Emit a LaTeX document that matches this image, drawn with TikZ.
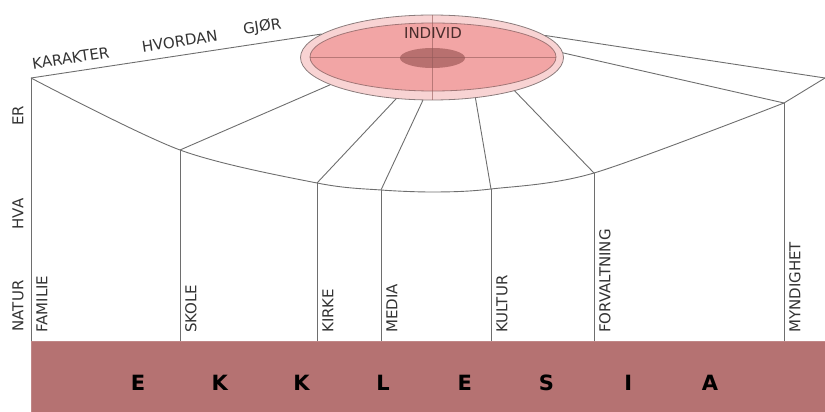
\documentclass[tikz,border=0pt]{standalone}
\usepackage{fontspec}
\setmainfont{DejaVu Sans}
\usetikzlibrary{shapes.geometric}

\definecolor{rim}{HTML}{F8D3D3}
\definecolor{disk}{HTML}{F2A5A5}
\definecolor{core}{HTML}{B8706F}
\definecolor{bar}{HTML}{B57272}
\definecolor{wire}{HTML}{6E6E6E}
\definecolor{ink}{HTML}{333333}

\tikzset{
  wire/.style={draw=wire, line width=0.9pt},
  lbl/.style={font=\fontsize{15}{17}\selectfont, text=ink, inner sep=0pt},
  vlbl/.style={lbl, rotate=90, anchor=west},
  letter/.style={font=\fontsize{21}{23}\selectfont\bfseries, text=black},
}

\begin{document}
\begin{tikzpicture}[x=1pt,y=-1pt]
    \useasboundingbox (0,0) rectangle (825,412);
    \node[fill=bar, draw=bar!85!white, anchor=north west, inner sep=0pt,
      minimum width=794pt, minimum height=71pt] (base) at (31,341) {};
    \foreach \c [count=\i] in {E,K,K,L,E,S,I,A}
      \node[letter] (b\i) at ({138+81.7*(\i-1)},383) {\c};

    \coordinate (fam) at (31,78);
    \coordinate (sko) at (180,150);
    \coordinate (kir) at (317,183);
    \coordinate (med) at (381,190);
    \coordinate (kul) at (491,189);
    \coordinate (forv) at (594,173);
    \coordinate (myn) at (784,103);
    \coordinate (tip) at (825,78);

    \draw[wire] plot[smooth, tension=0.5] coordinates
      {(fam) (sko) (kir) (med) (436,192) (kul) (forv) (myn)};
    \foreach \j/\t in {fam/FAMILIE, sko/SKOLE, kir/KIRKE, med/MEDIA,
        kul/KULTUR, forv/FORVALTNING, myn/MYNDIGHET} {
      \draw[wire] (\j) -- (\j |- base.north);
      \path (\j |- base.north) ++(11,-8) node[vlbl] (\j-t) {\t};
    }

    \node[lbl, rotate=90] (er) at (18,116) {ER};
    \node[lbl, rotate=90] (hva) at (18,214) {HVA};
    \node[lbl, rotate=90] (natur) at (18,306) {NATUR};

    \node[ellipse, draw=gray!80!core, fill=rim, line width=0.8pt, inner sep=0pt,
      minimum width=263pt, minimum height=85pt] (ind) at (432,57.5) {};
    \node[ellipse, draw=core!60!gray, fill=disk, line width=0.8pt, inner sep=0pt,
      minimum width=246pt, minimum height=68pt] (plate) at (433,57) {};
    \node[ellipse, fill=core, inner sep=0pt,
      minimum width=65pt, minimum height=20pt] (kjerne) at (432.5,58) {};
    \draw[core!80!black, line width=0.6pt, opacity=0.6] (plate.west) -- (plate.east);
    \draw[core!80!black, line width=0.6pt, opacity=0.6] (ind.north) -- (ind.south);
    \node[lbl, text=core!40!black] (indL) at (433,33) {INDIVID};

    \draw[wire] (fam) -- (ind.168)
      node[lbl, pos=0.144, sloped, above=8pt] (kar) {KARAKTER}
      node[lbl, pos=0.519, sloped, above=8pt] (hvo) {HVORDAN}
      node[lbl, pos=0.804, sloped, above=8pt] (gjo) {GJØR};
    \draw[wire] (sko) -- (ind.195);
    \draw[wire] (kir) -- (ind.229);
    \draw[wire] (med) -- (ind.258);
    \draw[wire] (kul) -- (ind.317);
    \draw[wire] (forv) -- (ind.338);
    \draw[wire] (myn) -- (ind.2);
    \draw[wire] (tip) -- (ind.11);
    \draw[wire] (tip) -- (myn);
\end{tikzpicture}
\end{document}
